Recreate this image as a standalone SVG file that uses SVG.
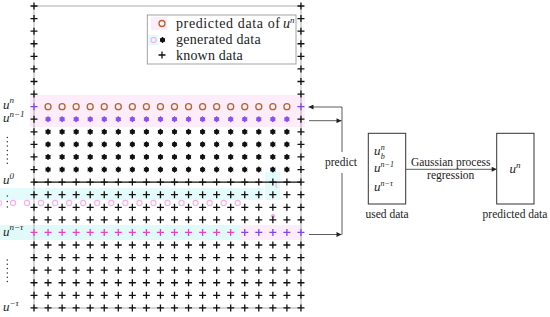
<svg xmlns="http://www.w3.org/2000/svg" xmlns:xlink="http://www.w3.org/1999/xlink" width="550" height="317" viewBox="0 0 550 317">
<style>
text{font-family:"Liberation Serif","Times New Roman",serif;fill:#222}
.lg{font-size:14px}
.rt{font-size:11.5px}
.mi{font-style:italic;font-size:13px}
.sp{font-size:9px}
.spi{font-size:9px;font-style:italic}
.sb{font-size:8px}
.sbi{font-size:8px;font-style:italic}
.frame{stroke:#999;stroke-width:0.8;fill:none}
.blk{stroke:#111;stroke-width:1.3;fill:none}
.pur{stroke:#7d45f5;stroke-width:1.3;fill:none}
.mag{stroke:#f03cc8;stroke-width:1.3;fill:none}
.star{fill:#111;stroke:#111;stroke-width:1}
.pstar{fill:#8a4ff7;stroke:#8a4ff7;stroke-width:1}
.circ{fill:none;stroke:#b4652c;stroke-width:1.3}
.conn{stroke:#333;stroke-width:0.8;fill:none}
.box{fill:#fff;stroke:#333;stroke-width:1}
.pk{fill:none;stroke:#f7b0e9;stroke-width:1.1}
</style>
<defs>
<path id="p" d="M-3.5,0H3.5M0,-3.5V3.5"/>
<g id="s"><circle r="2.1"/><path d="M0,-3V3M-2.6,-1.5L2.6,1.5M-2.6,1.5L2.6,-1.5"/></g>
<g id="prow">
<use href="#p" x="34"/><use href="#p" x="48.05"/><use href="#p" x="62.1"/><use href="#p" x="76.15"/><use href="#p" x="90.2"/><use href="#p" x="104.25"/><use href="#p" x="118.3"/><use href="#p" x="132.35"/><use href="#p" x="146.4"/><use href="#p" x="160.45"/><use href="#p" x="174.5"/><use href="#p" x="188.55"/><use href="#p" x="202.6"/><use href="#p" x="216.65"/><use href="#p" x="230.7"/><use href="#p" x="244.75"/><use href="#p" x="258.8"/><use href="#p" x="272.85"/><use href="#p" x="286.9"/><use href="#p" x="300.95"/>
</g>
<g id="edge"><use href="#p" x="34"/><use href="#p" x="300.95"/></g>
<g id="srow">
<use href="#s" x="48.05"/><use href="#s" x="62.1"/><use href="#s" x="76.15"/><use href="#s" x="90.2"/><use href="#s" x="104.25"/><use href="#s" x="118.3"/><use href="#s" x="132.35"/><use href="#s" x="146.4"/><use href="#s" x="160.45"/><use href="#s" x="174.5"/><use href="#s" x="188.55"/><use href="#s" x="202.6"/><use href="#s" x="216.65"/><use href="#s" x="230.7"/><use href="#s" x="244.75"/><use href="#s" x="258.8"/><use href="#s" x="272.85"/><use href="#s" x="286.9"/>
</g>
<marker id="ah" viewBox="0 0 10 10" refX="10" refY="5" markerWidth="6" markerHeight="5" orient="auto" markerUnits="userSpaceOnUse">
<path d="M0,0L10,5L0,10z" fill="#222"/>
</marker>
</defs>
<rect width="550" height="317" fill="#fff"/>

<g id="highlights">
<rect x="30" y="95" width="275" height="32" fill="#fdecf9"/>
<rect x="0" y="188" width="263" height="12" fill="#e4fbfb"/>
<rect x="0" y="225" width="240" height="15" fill="#e2f9f9"/>
<rect x="240" y="225" width="62" height="15" fill="#fdecf9"/>
<rect x="265" y="172" width="15" height="28" fill="#e4fbfb"/>
<g class="pk">
<circle cx="-1" cy="203" r="2.6"/><circle cx="13" cy="203" r="2.6"/><circle cx="27" cy="203" r="2.6"/><circle cx="41.05" cy="203" r="2.6"/><circle cx="55.1" cy="203" r="2.6"/><circle cx="69.15" cy="203" r="2.6"/><circle cx="83.2" cy="203" r="2.6"/><circle cx="97.25" cy="203" r="2.6"/><circle cx="111.3" cy="203" r="2.6"/><circle cx="125.35" cy="203" r="2.6"/><circle cx="139.4" cy="203" r="2.6"/><circle cx="153.45" cy="203" r="2.6"/><circle cx="167.5" cy="203" r="2.6"/><circle cx="181.55" cy="203" r="2.6"/><circle cx="195.6" cy="203" r="2.6"/><circle cx="209.65" cy="203" r="2.6"/><circle cx="223.7" cy="203" r="2.6"/><circle cx="237.7" cy="203" r="2.6"/>
<path d="M277,182q-2,3 0,6"/>
</g>
<circle cx="273" cy="216" r="2" fill="#f7a6e6"/>
</g>

<g id="grid">
<path class="frame" d="M34,6H301V308H34Z"/>
<path d="M34,182.12H301" stroke="#111" stroke-width="1.2"/>
<g class="blk">
<use href="#edge" y="6"/><use href="#edge" y="18.58"/><use href="#edge" y="31.16"/><use href="#edge" y="43.74"/><use href="#edge" y="56.32"/><use href="#edge" y="68.9"/><use href="#edge" y="81.48"/><use href="#edge" y="94.06"/>
<use href="#edge" y="119.22"/><use href="#edge" y="131.8"/><use href="#edge" y="144.38"/><use href="#edge" y="156.96"/><use href="#edge" y="169.54"/>
<use href="#prow" y="182.12"/><use href="#prow" y="194.7"/><use href="#prow" y="207.28"/><use href="#prow" y="219.86"/>
<use href="#prow" y="245.02"/><use href="#prow" y="257.6"/><use href="#prow" y="270.18"/><use href="#prow" y="282.76"/><use href="#prow" y="295.34"/><use href="#prow" y="307.92"/>
</g>
<g class="pur">
<use href="#edge" y="106.64"/>
<use href="#p" x="244.75" y="232.44"/><use href="#p" x="258.8" y="232.44"/><use href="#p" x="272.85" y="232.44"/><use href="#p" x="286.9" y="232.44"/><use href="#p" x="300.95" y="232.44"/>
</g>
<g class="mag">
<use href="#p" x="34" y="232.44"/><use href="#p" x="48.05" y="232.44"/><use href="#p" x="62.1" y="232.44"/><use href="#p" x="76.15" y="232.44"/><use href="#p" x="90.2" y="232.44"/><use href="#p" x="104.25" y="232.44"/><use href="#p" x="118.3" y="232.44"/><use href="#p" x="132.35" y="232.44"/><use href="#p" x="146.4" y="232.44"/><use href="#p" x="160.45" y="232.44"/><use href="#p" x="174.5" y="232.44"/><use href="#p" x="188.55" y="232.44"/><use href="#p" x="202.6" y="232.44"/><use href="#p" x="216.65" y="232.44"/><use href="#p" x="230.7" y="232.44"/>
</g>
<g class="circ">
<circle cx="48.05" cy="106.64" r="3"/><circle cx="62.1" cy="106.64" r="3"/><circle cx="76.15" cy="106.64" r="3"/><circle cx="90.2" cy="106.64" r="3"/><circle cx="104.25" cy="106.64" r="3"/><circle cx="118.3" cy="106.64" r="3"/><circle cx="132.35" cy="106.64" r="3"/><circle cx="146.4" cy="106.64" r="3"/><circle cx="160.45" cy="106.64" r="3"/><circle cx="174.5" cy="106.64" r="3"/><circle cx="188.55" cy="106.64" r="3"/><circle cx="202.6" cy="106.64" r="3"/><circle cx="216.65" cy="106.64" r="3"/><circle cx="230.7" cy="106.64" r="3"/><circle cx="244.75" cy="106.64" r="3"/><circle cx="258.8" cy="106.64" r="3"/><circle cx="272.85" cy="106.64" r="3"/><circle cx="286.9" cy="106.64" r="3"/>
</g>
<g class="pstar"><use href="#srow" y="119.22"/></g>
<g class="star">
<use href="#srow" y="131.8"/><use href="#srow" y="144.38"/><use href="#srow" y="156.96"/><use href="#srow" y="169.54"/>
</g>
</g>

<g id="row-labels">
<text class="mi" x="3" y="108.5">u<tspan class="spi" dy="-5.5">n</tspan></text>
<text class="mi" x="3" y="122">u<tspan class="spi" dy="-5.5">n</tspan><tspan class="sp">−1</tspan></text>
<text class="mi" x="3" y="184">u<tspan class="sp" dy="-5.5">0</tspan></text>
<text class="mi" x="3" y="235.5">u<tspan class="spi" dy="-5.5">n</tspan><tspan class="sp">−</tspan><tspan class="spi">τ</tspan></text>
<text class="mi" x="3" y="311">u<tspan class="sp" dy="-5.5">−</tspan><tspan class="spi">τ</tspan></text>
<g fill="#333">
<circle cx="7.3" cy="137.5" r="0.75"/><circle cx="7.3" cy="141.8" r="0.75"/><circle cx="7.3" cy="146.1" r="0.75"/><circle cx="7.3" cy="150.4" r="0.75"/><circle cx="7.3" cy="154.7" r="0.75"/><circle cx="7.3" cy="159" r="0.75"/><circle cx="7.3" cy="163.3" r="0.75"/>
<circle cx="7.3" cy="196" r="0.75"/><circle cx="7.3" cy="201.5" r="0.75"/><circle cx="7.3" cy="207" r="0.75"/>
<circle cx="7.3" cy="260" r="0.75"/><circle cx="7.3" cy="264.3" r="0.75"/><circle cx="7.3" cy="268.6" r="0.75"/><circle cx="7.3" cy="272.9" r="0.75"/><circle cx="7.3" cy="277.2" r="0.75"/><circle cx="7.3" cy="281.5" r="0.75"/>
</g>
</g>

<g id="legend">
<rect x="147.3" y="15" width="148.7" height="49" fill="#fff" stroke="#999" stroke-width="0.9"/>
<rect x="151" y="17" width="16" height="13" fill="#fdecf9"/>
<rect x="148" y="35" width="10" height="10" fill="#e4fbfb"/>
<circle class="circ" cx="162" cy="23.5" r="3"/>
<circle class="pk" cx="153.5" cy="40" r="2.6"/>
<use href="#s" class="star" x="162.5" y="40"/>
<use href="#p" class="blk" x="162" y="55"/>
<text class="lg" x="176" y="28" textLength="104" lengthAdjust="spacing">predicted data of</text>
<text class="lg" x="283" y="28"><tspan font-style="italic">u</tspan><tspan class="spi" dy="-5.5">n</tspan></text>
<text class="lg" x="176" y="44" textLength="84.7" lengthAdjust="spacing">generated data</text>
<text class="lg" x="176" y="59.5" textLength="66.7" lengthAdjust="spacing">known data</text>
</g>

<g id="connectors">
<path class="conn" d="M342,152V107H308.5" marker-end="url(#ah)"/>
<path class="conn" d="M342,173V234.5"/>
<path class="conn" d="M309,120.7H341.5" marker-end="url(#ah)"/>
<path class="conn" d="M309,234.5H341.5" marker-end="url(#ah)"/>
<path class="conn" d="M406,169.3H496.7" marker-end="url(#ah)"/>
<text class="rt" x="341" y="165.5" text-anchor="middle">predict</text>
<text class="rt" x="450.7" y="165.5" text-anchor="middle">Gaussian process</text>
<text class="rt" x="450.7" y="179" text-anchor="middle">regression</text>
</g>

<g id="used-data">
<rect class="box" x="368.3" y="133.3" width="37.4" height="70.7"/>
<text class="mi" x="374" y="154.5">u</text>
<text class="sbi" x="380.8" y="149.5">n</text>
<text class="sbi" x="380.8" y="158.5">b</text>
<text class="mi" x="374" y="172">u<tspan class="sbi" dy="-5">n</tspan><tspan class="sb">−1</tspan></text>
<text class="mi" x="374" y="190.5">u<tspan class="sbi" dy="-5">n</tspan><tspan class="sb">−</tspan><tspan class="sbi">τ</tspan></text>
<text class="rt" x="387" y="218" text-anchor="middle">used data</text>
</g>

<g id="predicted-data">
<rect class="box" x="496.7" y="133.3" width="37.3" height="70.7"/>
<text class="mi" x="509.5" y="173">u<tspan class="spi" dy="-5.5">n</tspan></text>
<text class="rt" x="515" y="218" text-anchor="middle">predicted data</text>
</g>
</svg>
